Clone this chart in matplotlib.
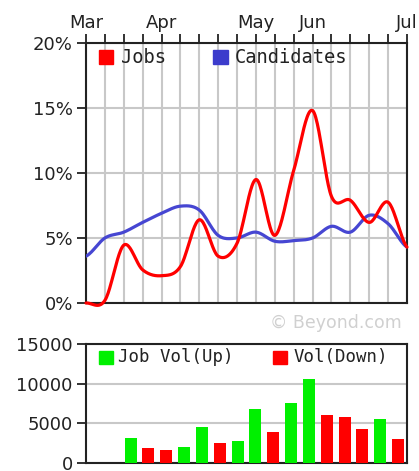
import matplotlib
matplotlib.use("Agg")
import matplotlib.pyplot as plt
from matplotlib.patches import Rectangle
import numpy as np

# weekly readings, Mar -> Jul
weeks = list(range(18))
month_labels = ["Mar", "Apr", "May", "Jun", "Jul"]
month_weeks = [0, 4, 9, 12, 17]
jobs = [0.0, 0.2, 4.45, 2.55, 2.1, 2.8, 6.4, 3.6, 4.6, 9.5, 5.2, 10.2, 14.8, 8.2, 7.9, 6.2, 7.75, 4.3]
candidates = [3.6, 5.0, 5.45, 6.2, 6.9, 7.45, 7.15, 5.2, 5.0, 5.45, 4.75, 4.8, 5.0, 5.9, 5.45, 6.75, 6.1, 4.3]
job_vol = [0, 0, 3100, 1850, 1600, 2050, 4550, 2550, 2800, 6850, 3850, 7600, 10550, 6050, 5850, 4300, 5550, 3050]
vol_up = [False, False, True, False, False, True, True, False, True, True, False, True, True, False, False, False, True, False]

RED = "#ff0000"
BLUE = "#4646d2"
GREEN = "#00f000"
GRID = "#c8c8c8"
INK = "#222222"


def smooth(y, n=24):
    # catmull-rom so the line looks like the original rounded curve
    y = np.asarray(y, dtype=float)
    p = np.concatenate([[y[0]], y, [y[-1]]])
    xs, ys = [], []
    t = np.linspace(0, 1, n, endpoint=False)
    for i in range(len(y) - 1):
        p0, p1, p2, p3 = p[i], p[i + 1], p[i + 2], p[i + 3]
        ys.append(0.5 * (2 * p1 + (-p0 + p2) * t + (2 * p0 - 5 * p1 + 4 * p2 - p3) * t ** 2
                         + (-p0 + 3 * p1 - 3 * p2 + p3) * t ** 3))
        xs.append(i + t)
    xs.append([len(y) - 1])
    ys.append([y[-1]])
    return np.concatenate(xs), np.concatenate(ys)


plt.rcParams["font.family"] = "DejaVu Sans"
fig = plt.figure(figsize=(4.19, 4.71), dpi=100)
W, H = 419, 471

# ---- top panel: percentages
ax = fig.add_axes([86 / W, 1 - 303 / H, 321 / W, 260 / H])
ax.set_xlim(0, 17)
ax.set_ylim(0, 20)
labels = [""] * len(weeks)
for m, w in zip(month_labels, month_weeks):
    labels[w] = m
ax.set_xticks(weeks)
ax.set_xticklabels(labels)
ax.tick_params(axis="x", top=True, bottom=False, labeltop=True, labelbottom=False,
               direction="out", length=6.5, width=1.3, color=INK, pad=1.5, labelsize=13,
               labelcolor=INK)
ax.set_yticks([0, 5, 10, 15, 20])
ax.set_yticklabels(["0%", "5%", "10%", "15%", "20%"])
ax.tick_params(axis="y", direction="out", length=6.5, width=1.3, color=INK, labelsize=13,
               labelcolor=INK, pad=3)
ax.grid(True, color=GRID, linewidth=1.5)
ax.set_axisbelow(True)
for s in ax.spines.values():
    s.set_linewidth(1.5)
    s.set_color(INK)

xs, ys = smooth(candidates)
ax.plot(xs, ys, color=BLUE, linewidth=2.3, solid_capstyle="round", zorder=3)
xs, ys = smooth(jobs)
ax.plot(xs, ys, color=RED, linewidth=2.3, solid_capstyle="round", zorder=4, clip_on=False)

ax.add_patch(Rectangle((0.0405, 0.919), 0.044, 0.054, transform=ax.transAxes, color=RED))
ax.text(0.109, 0.944, "Jobs", transform=ax.transAxes, fontsize=13.5, family="DejaVu Sans Mono",
        va="center", color=INK)
ax.add_patch(Rectangle((0.396, 0.919), 0.046, 0.054, transform=ax.transAxes, color="#3c3ccc"))
ax.text(0.464, 0.944, "Candidates", transform=ax.transAxes, fontsize=13.5, family="DejaVu Sans Mono",
        va="center", color=INK)

fig.text(402 / W, 1 - 323 / H, "\u00a9 Beyond.com", ha="right", va="center", fontsize=12.5,
         color="#d0d0d0")

# ---- bottom panel: job volume
bx = fig.add_axes([86 / W, 1 - 463 / H, 321 / W, 119 / H])
bx.set_xlim(-0.5, 17.5)
bx.set_ylim(0, 15000)
colors = [GREEN if u else RED for u in vol_up]
bx.bar(weeks, job_vol, width=0.67, color=colors, zorder=3)
bx.set_xticks([])
bx.set_yticks([0, 5000, 10000, 15000])
bx.tick_params(axis="y", direction="out", length=6.5, width=1.3, color=INK, labelsize=13,
               labelcolor=INK, pad=3)
bx.grid(True, axis="y", color=GRID, linewidth=1.5)
bx.set_axisbelow(True)
for s in bx.spines.values():
    s.set_linewidth(1.5)
    s.set_color(INK)

bx.add_patch(Rectangle((0.0405, 0.832), 0.044, 0.109, transform=bx.transAxes, color=GREEN, zorder=5))
bx.text(0.1, 0.887, "Job Vol(Up)", transform=bx.transAxes, fontsize=12.5, family="DejaVu Sans Mono",
        va="center", color=INK)
bx.add_patch(Rectangle((0.583, 0.832), 0.043, 0.109, transform=bx.transAxes, color=RED, zorder=5))
bx.text(0.645, 0.887, "Vol(Down)", transform=bx.transAxes, fontsize=12.5, family="DejaVu Sans Mono",
        va="center", color=INK)

fig.savefig("out.png", dpi=100)
